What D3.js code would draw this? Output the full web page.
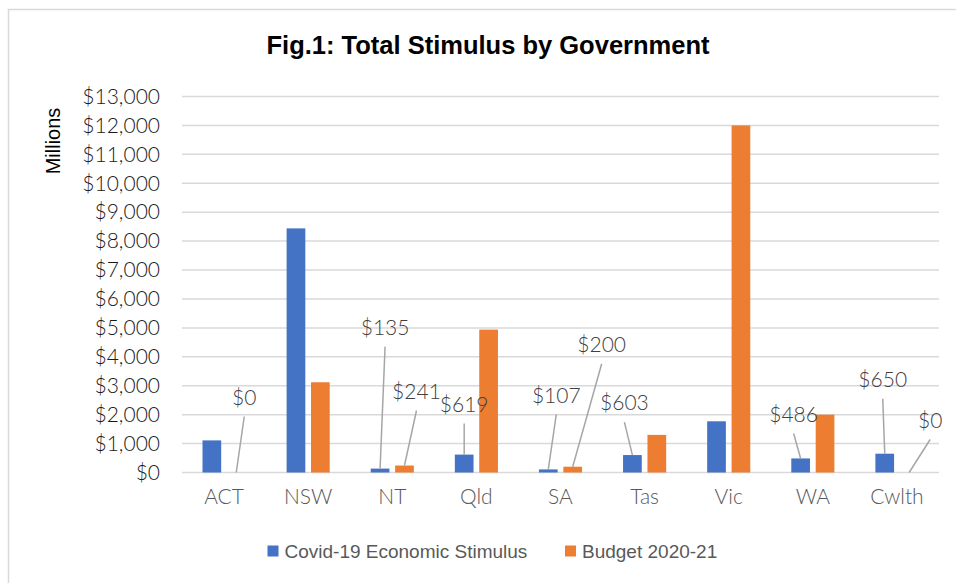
<!DOCTYPE html>
<html>
<head>
<meta charset="utf-8">
<script src="https://cdn.jsdelivr.net/npm/d3@7/dist/d3.min.js"></script>
<style>
  body{margin:0;background:#fff;}
  svg{display:block;}
</style>
</head>
<body>
<div id="chart"></div>
<script>
let categories = ['ACT','NSW','NT','Qld','SA','Tas','Vic','WA','Cwlth']
let seriesNames = ['Covid-19 Economic Stimulus','Budget 2020-21']
let covidValues = [1110, 8440, 135, 619, 107, 603, 1770, 486, 650]
let budgetValues = [0, 3120, 241, 4940, 200, 1300, 12000, 2000, 0]
let yTicks = [0,1000,2000,3000,4000,5000,6000,7000,8000,9000,10000,11000,12000,13000]

// which bars carry a data label: [category, series index]
let labelled = [['ACT',1],['NT',0],['NT',1],['Qld',0],['SA',0],['SA',1],['Tas',0],['WA',0],['Cwlth',0],['Cwlth',1]]

let W = 956, H = 583
let colors = ['#4472C4','#ED7D31']
let fontTick = 'Lato, "Open Sans", sans-serif'
let fontText = '"Liberation Sans", Arial, sans-serif'

// label text placement relative to bar top (Excel-dragged labels)
let labelOffset = {
    'ACT-1':[8,-75], 'NT-0':[5,-141], 'NT-1':[12,-74], 'Qld-0':[0,-50],
    'SA-0':[8,-74], 'SA-1':[29,-122], 'Tas-0':[-8,-52], 'WA-0':[-7,-44],
    'Cwlth-0':[-2,-74], 'Cwlth-1':[21,-52]
}

let rows = categories.map((c,i)=>({name:c, values:[covidValues[i], budgetValues[i]]}))

let svg = d3.select('#chart').append('svg')
            .attr('width',W)
            .attr('height',H)

svg.append('rect').attr('width',W).attr('height',H).attr('fill','#fff')

// chart frame
svg.append('path')
    .attr('d','M8.5 583 L8.5 9.5 L956 9.5')
    .attr('fill','none')
    .attr('stroke','#d9d9d9')
    .attr('stroke-width',1.5)

let plot = {left:182, right:939, top:96.5, bottom:472.5}

let x0 = d3.scaleBand()
            .domain(categories)
            .range([plot.left, plot.right])
            .padding(0)

let x1 = d3.scaleBand()
            .domain([0,1])
            .range([0, x0.bandwidth()])
            .paddingInner(0.234)
            .paddingOuter(0.84)

let y = d3.scaleLinear()
            .domain([0,13000])
            .range([plot.bottom, plot.top])

// gridlines
svg.append('g')
    .selectAll('line')
    .data(yTicks)
    .enter()
    .append('line')
    .attr('x1',plot.left)
    .attr('x2',plot.right)
    .attr('y1',d=>y(d))
    .attr('y2',d=>y(d))
    .attr('stroke','#d9d9d9')
    .attr('stroke-width',1.5)

let yAxis = d3.axisLeft(y)
            .tickValues(yTicks)
            .tickSize(0)
            .tickPadding(0)
            .tickFormat(d=>'$'+d3.format(',')(d))

let yg = svg.append('g')
            .attr('transform','translate(160,0)')
            .call(yAxis)
yg.select('.domain').remove()
yg.selectAll('text')
    .attr('font-family',fontTick)
    .attr('font-weight',300)
    .attr('font-size',21)
    .attr('fill','#1a1a1a')

let xAxis = d3.axisBottom(x0)
            .tickSize(0)
            .tickPadding(17)

let xg = svg.append('g')
            .attr('transform','translate(0,'+plot.bottom+')')
            .call(xAxis)
xg.select('.domain').remove()
xg.selectAll('text')
    .attr('font-family',fontTick)
    .attr('font-weight',300)
    .attr('font-size',21)
    .attr('fill','#595959')

// bars
let group = svg.append('g')
            .selectAll('g')
            .data(rows)
            .enter()
            .append('g')
            .attr('transform',d=>'translate('+x0(d.name)+',0)')

group.selectAll('rect')
    .data(d=>d.values.map((v,i)=>({s:i, v:v})))
    .enter()
    .append('rect')
    .attr('x',d=>x1(d.s))
    .attr('width',x1.bandwidth())
    .attr('y',d=>y(d.v))
    .attr('height',d=>plot.bottom - y(d.v))
    .attr('fill',d=>colors[d.s])

// data labels with leader lines
let labels = svg.append('g')
labelled.forEach(([cat,s])=>{
    let i = categories.indexOf(cat)
    let v = s===0 ? covidValues[i] : budgetValues[i]
    let bx = x0(cat) + x1(s) + x1.bandwidth()/2
    let by = y(v)
    let off = labelOffset[cat+'-'+s]
    let tx = bx + off[0], ty = by + off[1]

    labels.append('line')
        .attr('x1',tx)
        .attr('y1',ty+19)
        .attr('x2',bx)
        .attr('y2',by)
        .attr('stroke','#a6a6a6')
        .attr('stroke-width',1.5)

    labels.append('text')
        .attr('x',tx)
        .attr('y',ty)
        .attr('dy','0.35em')
        .attr('text-anchor','middle')
        .attr('font-family',fontTick)
        .attr('font-weight',300)
        .attr('font-size',21)
        .attr('fill','#404040')
        .text('$'+d3.format(',')(v))
})

// title
svg.append('text')
    .attr('x',488)
    .attr('y',54)
    .attr('text-anchor','middle')
    .attr('font-family',fontText)
    .attr('font-weight','bold')
    .attr('font-size',25.5)
    .attr('fill','#000')
    .text('Fig.1: Total Stimulus by Government')

// y axis title
svg.append('text')
    .attr('transform','translate(60,141) rotate(-90)')
    .attr('text-anchor','middle')
    .attr('font-family',fontText)
    .attr('font-size',20)
    .attr('fill','#000')
    .text('Millions')

// legend
let legendX = [267.5, 565]
let legend = svg.append('g')
            .selectAll('g')
            .data(seriesNames)
            .enter()
            .append('g')
            .attr('transform',(d,i)=>'translate('+legendX[i]+',551)')
legend.append('rect')
    .attr('x',0)
    .attr('y',-5.5)
    .attr('width',11)
    .attr('height',11)
    .attr('fill',(d,i)=>colors[i])
legend.append('text')
    .attr('x',17)
    .attr('y',0)
    .attr('dy','0.35em')
    .attr('font-family',fontText)
    .attr('font-size',19)
    .attr('fill','#595959')
    .text(d=>d)
</script>
</body>
</html>
